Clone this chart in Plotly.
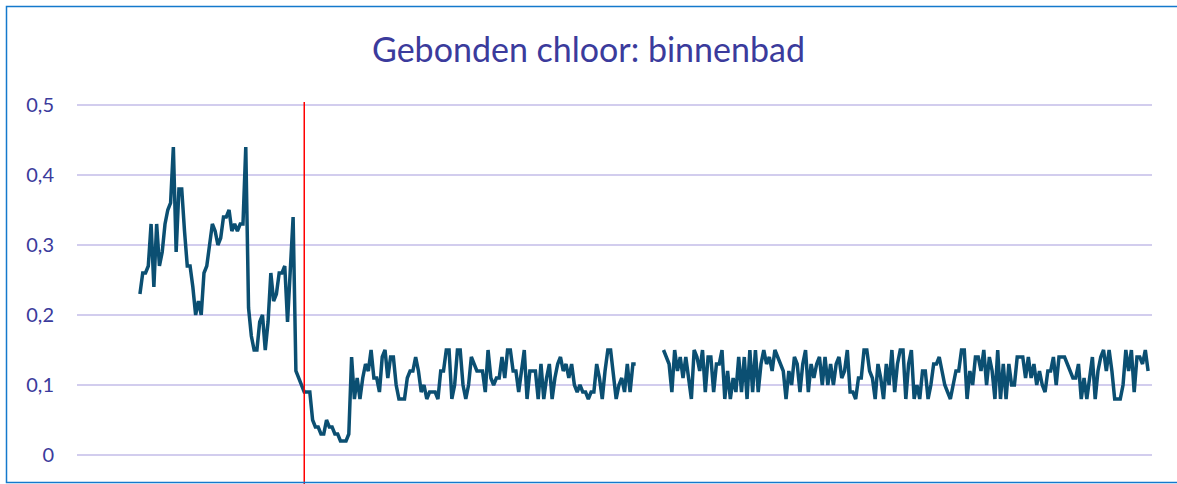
import pandas as pd
import plotly.graph_objects as go

# dagwaarden gebonden chloor (mg/l), binnenbad
start_datum = "2019-01-01"
markering = "2019-03-01"

chloor_jan_feb = [0.23, 0.26, 0.26, 0.27, 0.33, 0.24, 0.33, 0.27, 0.29, 0.33,
                  0.35, 0.36, 0.44, 0.29, 0.38, 0.38, 0.32, 0.27, 0.27, 0.24,
                  0.20, 0.22, 0.20, 0.26, 0.27, 0.30, 0.33, 0.32, 0.30, 0.31,
                  0.34, 0.34, 0.35, 0.32, 0.33, 0.32, 0.33, 0.33, 0.44, 0.21,
                  0.17, 0.15, 0.15, 0.19, 0.20, 0.15, 0.19, 0.26, 0.22, 0.23,
                  0.26, 0.26, 0.27, 0.19, 0.26, 0.34, 0.12, 0.11, 0.10]

chloor_mrt_jun = [0.09, 0.09, 0.09, 0.05, 0.04, 0.04, 0.03, 0.03, 0.05, 0.04,
                  0.04, 0.03, 0.03, 0.02, 0.02, 0.02, 0.03, 0.14,
                  0.08, 0.11, 0.08, 0.11, 0.13, 0.12, 0.15, 0.11, 0.11, 0.09,
                  0.14, 0.15, 0.11, 0.14, 0.14, 0.10, 0.08, 0.08, 0.08, 0.11,
                  0.12, 0.12, 0.14, 0.12, 0.09, 0.10, 0.08, 0.09, 0.09, 0.09,
                  0.08, 0.12, 0.12, 0.15, 0.15, 0.08, 0.10, 0.15, 0.15, 0.10,
                  0.08, 0.10, 0.14, 0.13, 0.12,
                  0.12, 0.12, 0.09, 0.15, 0.11, 0.10, 0.11, 0.11, 0.14, 0.11,
                  0.15, 0.15, 0.12, 0.12, 0.09, 0.12, 0.15, 0.08, 0.12, 0.12,
                  0.12, 0.08, 0.13, 0.08, 0.11, 0.13, 0.08, 0.11, 0.13, 0.14,
                  0.12, 0.13, 0.11, 0.13, 0.10, 0.09, 0.10, 0.09, 0.09, 0.08,
                  0.09, 0.09, 0.13, 0.11, 0.08, 0.12, 0.15, 0.15, 0.11, 0.08,
                  0.10, 0.11, 0.09, 0.13, 0.09, 0.13, 0.13]

# geen metingen (bad gesloten)
ontbrekend = [None, None, None, None, None, None, None, None, None]

chloor_jul_dec = [0.15, 0.14, 0.13, 0.09, 0.15, 0.12, 0.14, 0.11, 0.14, 0.11,
                  0.08, 0.15, 0.14, 0.12, 0.15, 0.09, 0.14, 0.14, 0.09, 0.13,
                  0.13, 0.15, 0.08, 0.12, 0.08, 0.11, 0.09, 0.14, 0.09, 0.14,
                  0.08, 0.15, 0.09, 0.15, 0.09, 0.13, 0.15, 0.13, 0.14, 0.12,
                  0.15, 0.14, 0.13, 0.12, 0.08, 0.12, 0.10, 0.14, 0.13, 0.09,
                  0.13, 0.15, 0.09, 0.13,
                  0.11, 0.13, 0.14, 0.10, 0.14, 0.10, 0.13, 0.10, 0.13, 0.14,
                  0.11, 0.12, 0.15, 0.09, 0.09, 0.08, 0.11, 0.11, 0.15, 0.15,
                  0.12, 0.11, 0.08, 0.13, 0.11, 0.08, 0.13, 0.10, 0.15, 0.09,
                  0.13, 0.15, 0.15, 0.08, 0.13, 0.15, 0.08, 0.10, 0.08, 0.12,
                  0.12, 0.08, 0.10, 0.13, 0.13, 0.14, 0.12, 0.10, 0.09, 0.08,
                  0.10, 0.12, 0.12, 0.15, 0.15, 0.08, 0.12, 0.10, 0.14, 0.14,
                  0.12, 0.15, 0.10, 0.14, 0.12, 0.08, 0.15, 0.08, 0.13, 0.08,
                  0.13, 0.10, 0.10,
                  0.14, 0.14, 0.14, 0.11, 0.14, 0.11, 0.13, 0.10, 0.12, 0.10,
                  0.09, 0.12, 0.12, 0.14, 0.10, 0.14, 0.14, 0.14, 0.13, 0.12,
                  0.11, 0.11, 0.13, 0.08, 0.11, 0.08, 0.11, 0.14, 0.08, 0.12,
                  0.14, 0.15, 0.12, 0.15, 0.12, 0.08, 0.08, 0.08, 0.10, 0.15,
                  0.12, 0.15, 0.09, 0.14, 0.14, 0.13, 0.15, 0.12]

y_ticks = [0, 0.1, 0.2, 0.3, 0.4, 0.5]

#%%
waarden = chloor_jan_feb + chloor_mrt_jun + ontbrekend + chloor_jul_dec
datums = pd.date_range(start_datum, periods=len(waarden), freq="D")

# a bit of empty room left of the first day, like the excel chart
x_range = [datums[0] - pd.Timedelta(days=22.6), datums[-1] + pd.Timedelta(days=1.4)]

tekstkleur = "#3B3B9C"

fig = go.Figure(go.Scatter(x=datums, y=waarden, mode="lines",
                           line=dict(color="#0B4F72", width=3.5),
                           connectgaps=False, hoverinfo="x+y"))

fig.update_layout(
    width=1177, height=484,
    margin=dict(l=77, r=25, t=100, b=0),
    paper_bgcolor="white", plot_bgcolor="white",
    separators=",.",
    showlegend=False,
    font=dict(family="Lato, Open Sans, sans-serif", color=tekstkleur),
    title=dict(text="Gebonden chloor: binnenbad", x=0.5, xanchor="center",
               xref="container", y=1 - 50 / 484, yanchor="middle",
               yref="container",
               font=dict(size=34, color=tekstkleur)),
)

fig.update_xaxes(range=x_range, showgrid=False, showticklabels=False,
                 zeroline=False, showline=False, ticks="")
fig.update_yaxes(range=[-0.0414, 0.5071], tickvals=y_ticks,
                 ticktext=["0", "0,1", "0,2", "0,3", "0,4", "0,5"],
                 showgrid=True, gridcolor="#D2CDEE", gridwidth=1.5,
                 zeroline=False, showline=False, ticks="",
                 ticklabelstandoff=22,
                 tickfont=dict(size=20, color=tekstkleur))

# rode lijn bij 1 maart
fig.add_shape(type="line", xref="x", yref="paper",
              x0=markering, x1=markering, y0=0, y1=0.995,
              line=dict(color="#FF0000", width=1.5))

# rand om de grafiek
fig.add_shape(type="rect", xref="paper", yref="paper",
              x0=(6.5 - 77) / 1075, x1=1.1, y0=(484 - 482.5) / 384,
              y1=(484 - 6.5) / 384,
              line=dict(color="#1479CC", width=1.5), layer="above")

# page margin off so the figure sits in the top-left corner
fig.write_html("out.html", config={"displayModeBar": False},
               post_script="document.body.style.margin='0';")
